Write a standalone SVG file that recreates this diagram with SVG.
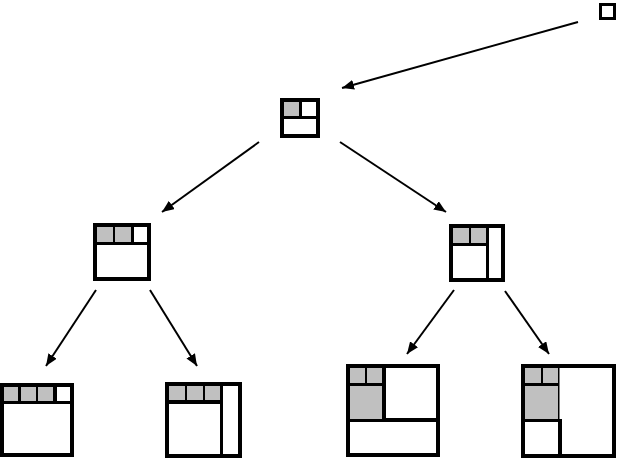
<svg xmlns="http://www.w3.org/2000/svg" width="617" height="458" viewBox="0 0 617 458">
<style>
.f{fill:#000}
.g{fill:#c0c0c0}
.w{fill:#fff}
.c{stroke:#000;stroke-width:2;fill:none;marker-end:url(#ah)}
</style>
<defs>
<marker id="ah" markerUnits="userSpaceOnUse" viewBox="0 0 12 10" refX="12" refY="5" markerWidth="12" markerHeight="10" orient="auto">
<path d="M0,0 L12,5 L0,10 z" fill="#000"/>
</marker>
</defs>
<rect width="617" height="458" fill="#fff"/>
<g id="connectors">
<line class="c" x1="578" y1="22" x2="342" y2="88"/>
<line class="c" x1="259" y1="142" x2="162" y2="212"/>
<line class="c" x1="340" y1="142" x2="446" y2="212"/>
<line class="c" x1="96" y1="290" x2="46" y2="366"/>
<line class="c" x1="150" y1="290" x2="197" y2="366"/>
<line class="c" x1="454" y1="290" x2="407" y2="354"/>
<line class="c" x1="505" y1="291" x2="549" y2="354"/>
</g>
<g id="root">
<rect class="f" x="599" y="3" width="17" height="17"/>
<rect class="w" x="602" y="6" width="11" height="11"/>
</g>
<g id="n1">
<rect class="f" x="280" y="98" width="40" height="40"/>
<rect class="g" x="284" y="102" width="15" height="14"/>
<rect class="w" x="302" y="102" width="14" height="14"/>
<rect class="w" x="284" y="119" width="32" height="15"/>
</g>
<g id="n2a">
<rect class="f" x="93" y="223" width="58" height="58"/>
<rect class="g" x="97" y="227" width="16" height="15"/>
<rect class="g" x="115" y="227" width="16" height="15"/>
<rect class="w" x="134" y="227" width="13" height="15"/>
<rect class="w" x="97" y="245" width="50" height="32"/>
</g>
<g id="n2b">
<rect class="f" x="449" y="224" width="56" height="58"/>
<rect class="g" x="453" y="228" width="16" height="15"/>
<rect class="g" x="471" y="228" width="15" height="15"/>
<rect class="w" x="489" y="228" width="12" height="50"/>
<rect class="w" x="453" y="246" width="33" height="32"/>
</g>
<g id="n3a">
<rect class="f" x="0" y="383" width="74" height="74"/>
<rect class="g" x="4" y="387" width="14" height="14"/>
<rect class="g" x="21" y="387" width="15" height="14"/>
<rect class="g" x="38" y="387" width="15" height="14"/>
<rect class="w" x="57" y="387" width="13" height="14"/>
<rect class="w" x="4" y="404" width="66" height="49"/>
</g>
<g id="n3b">
<rect class="f" x="165" y="382" width="77" height="76"/>
<rect class="g" x="169" y="386" width="16" height="14"/>
<rect class="g" x="187" y="386" width="16" height="14"/>
<rect class="g" x="205" y="386" width="15" height="14"/>
<rect class="w" x="223" y="386" width="15" height="68"/>
<rect class="w" x="169" y="404" width="51" height="50"/>
</g>
<g id="n3c">
<rect class="f" x="346" y="364" width="94" height="93"/>
<rect class="g" x="350" y="368" width="15" height="15"/>
<rect class="g" x="367" y="368" width="15" height="15"/>
<rect class="g" x="350" y="386" width="32" height="33"/>
<rect class="w" x="386" y="368" width="50" height="50"/>
<rect class="w" x="350" y="422" width="86" height="31"/>
</g>
<g id="n3d">
<rect class="f" x="521" y="364" width="95" height="94"/>
<rect class="g" x="525" y="368" width="16" height="15"/>
<rect class="g" x="543" y="368" width="15" height="15"/>
<rect class="g" x="525" y="386" width="33" height="33"/>
<rect class="w" x="559.5" y="368" width="52.5" height="86"/>
<rect class="f" x="558" y="419" width="4" height="35"/>
<rect class="w" x="525" y="422" width="33" height="32"/>
</g>
</svg>
